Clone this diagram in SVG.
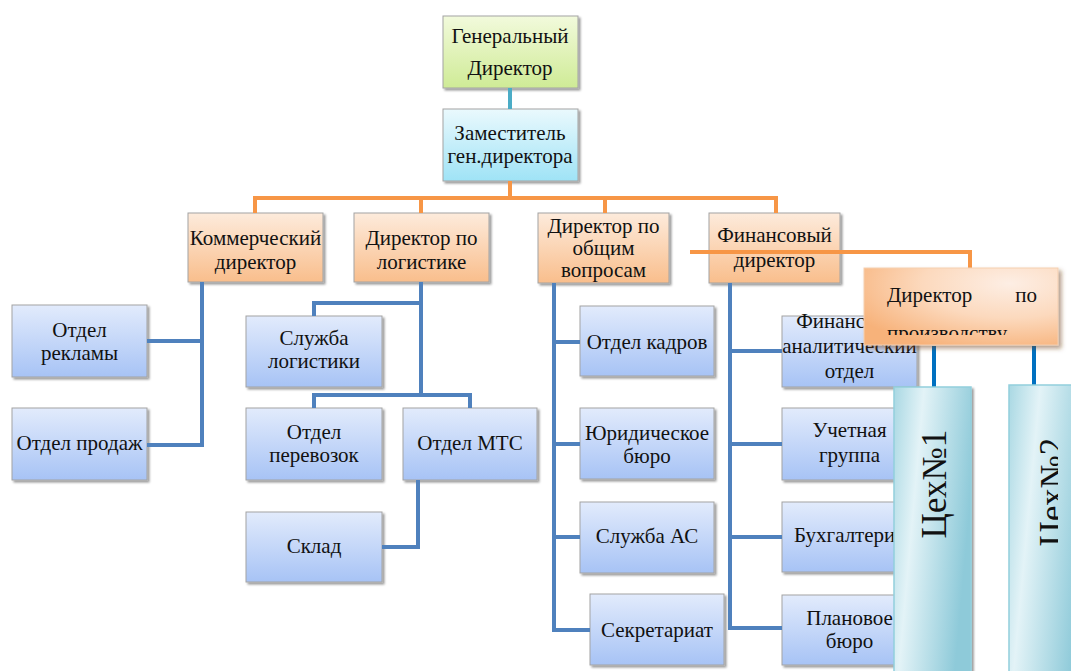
<svg xmlns="http://www.w3.org/2000/svg" width="1071" height="671" viewBox="0 0 1071 671">
<defs>
<linearGradient id="gGreen" x1="0" y1="0" x2="0" y2="1"><stop offset="0" stop-color="#f2fadc"/><stop offset="1" stop-color="#cfeb96"/></linearGradient>
<linearGradient id="gCyan" x1="0" y1="0" x2="0" y2="1"><stop offset="0" stop-color="#eaf9fd"/><stop offset="1" stop-color="#9fe3f6"/></linearGradient>
<linearGradient id="gOrange" x1="0" y1="0" x2="0" y2="1"><stop offset="0" stop-color="#fdebdc"/><stop offset="1" stop-color="#f9be8c"/></linearGradient>
<linearGradient id="gBlue" x1="0" y1="0" x2="0" y2="1"><stop offset="0" stop-color="#e2ebfc"/><stop offset="1" stop-color="#a7c3f5"/></linearGradient>
<radialGradient id="gProd" cx="0.75" cy="0.2" r="0.9"><stop offset="0" stop-color="#fdeee4"/><stop offset="0.5" stop-color="#fcd9bd"/><stop offset="1" stop-color="#f7b27a"/></radialGradient>
<linearGradient id="gTeal" x1="0" y1="0" x2="1" y2="0.35"><stop offset="0" stop-color="#a9d8e3"/><stop offset="0.35" stop-color="#e3f3f7"/><stop offset="1" stop-color="#8ecad9"/></linearGradient>
<filter id="sh" x="-10%" y="-10%" width="130%" height="130%"><feDropShadow dx="2" dy="2" stdDeviation="1.2" flood-color="#000" flood-opacity="0.4"/></filter>
<filter id="sh2" x="-10%" y="-10%" width="130%" height="130%"><feDropShadow dx="3" dy="3" stdDeviation="2" flood-color="#6b3a10" flood-opacity="0.5"/></filter>
<clipPath id="cProd"><rect x="864" y="268" width="195" height="67"/></clipPath>
<clipPath id="cCeh2"><rect x="1000" y="380" width="58" height="291"/></clipPath>
</defs>
<style>
text{font-family:"Liberation Serif","Times New Roman",serif;font-size:21px;fill:#111;text-anchor:middle}
.box{stroke:#a3a3a3;stroke-width:1;filter:url(#sh)}
.green{fill:url(#gGreen)}
.cyan{fill:url(#gCyan)}
.orange{fill:url(#gOrange)}
.blue{fill:url(#gBlue)}
.teal{fill:url(#gTeal);stroke:#93cfdd;stroke-width:1.5;filter:url(#sh)}
.lb{fill:none;stroke:#4f81bd;stroke-width:4}
.lo{fill:none;stroke:#f79646;stroke-width:4}
.lt{fill:none;stroke:#4bacc6;stroke-width:4}
.ld{fill:none;stroke:#0070c0;stroke-width:4}
</style>
<rect width="1071" height="671" fill="#fff"/>

<g id="gen-dir"><rect class="box green" x="443" y="16" width="135" height="72"/><text x="510" y="43">Генеральный</text><text x="510" y="75">Директор</text></g>
<g id="deputy"><rect class="box cyan" x="443" y="109" width="135" height="72"/><text x="510" y="140">Заместитель</text><text x="510" y="163">ген.директора</text></g>

<g id="commercial"><rect class="box orange" x="188" y="213" width="135" height="69"/><text x="255.5" y="245">Коммерческий</text><text x="255.5" y="269">директор</text></g>
<g id="logistics-dir"><rect class="box orange" x="354" y="213" width="135" height="69"/><text x="421.5" y="245">Директор по</text><text x="421.5" y="269">логистике</text></g>
<g id="general-dir"><rect class="box orange" x="538" y="213" width="131" height="70"/><text x="603.5" y="233">Директор по</text><text x="603.5" y="255">общим</text><text x="603.5" y="277">вопросам</text></g>
<g id="finance-dir"><rect class="box orange" x="709" y="213" width="131" height="70"/><text x="774.5" y="242">Финансовый</text><text x="774.5" y="267">директор</text></g>

<g id="ad-dept"><rect class="box blue" x="12" y="305" width="135" height="72"/><text x="79.5" y="337">Отдел</text><text x="79.5" y="360">рекламы</text></g>
<g id="sales-dept"><rect class="box blue" x="12" y="408" width="135" height="72"/><text x="79.5" y="450">Отдел продаж</text></g>

<g id="logistics-service"><rect class="box blue" x="246" y="316" width="136" height="71"/><text x="314" y="345">Служба</text><text x="314" y="368">логистики</text></g>
<g id="transport-dept"><rect class="box blue" x="246" y="408" width="136" height="72"/><text x="314" y="439">Отдел</text><text x="314" y="462">перевозок</text></g>
<g id="mts-dept"><rect class="box blue" x="403" y="408" width="134" height="72"/><text x="470" y="450">Отдел МТС</text></g>
<g id="warehouse"><rect class="box blue" x="246" y="512" width="136" height="70"/><text x="314" y="553">Склад</text></g>

<g id="hr-dept"><rect class="box blue" x="580" y="306" width="134" height="70"/><text x="647" y="349">Отдел кадров</text></g>
<g id="legal"><rect class="box blue" x="580" y="408" width="134" height="71"/><text x="647" y="440">Юридическое</text><text x="647" y="463">бюро</text></g>
<g id="as-service"><rect class="box blue" x="580" y="502" width="134" height="71"/><text x="647" y="543">Служба АС</text></g>
<g id="secretariat"><rect class="box blue" x="590" y="594" width="134" height="71"/><text x="657" y="637">Секретариат</text></g>

<g id="fin-analytic"><rect class="box blue" x="782" y="316" width="135" height="71"/><text x="849.5" y="328">Финансово-</text><text x="849.5" y="353">аналитический</text><text x="849.5" y="378">отдел</text></g>
<g id="accounting-group"><rect class="box blue" x="782" y="408" width="135" height="72"/><text x="849.5" y="437">Учетная</text><text x="849.5" y="462">группа</text></g>
<g id="bookkeeping"><rect class="box blue" x="782" y="502" width="135" height="70"/><text x="849.5" y="542">Бухгалтерия</text></g>
<g id="planning"><rect class="box blue" x="782" y="595" width="135" height="70"/><text x="849.5" y="625">Плановое</text><text x="849.5" y="648">бюро</text></g>

<g id="connectors">
<path class="lt" d="M510 88V109"/>
<path class="lo" d="M510 181V198M255 213V198H776V213M421 198V213M605 198V213"/>
<path class="lo" d="M690 252H970V268"/>
<path class="lb" d="M202 282V445H147M202 341H147"/>
<path class="lb" d="M421 282V395M421 303H314V316M314 408V395H470V408M418 480V547H382"/>
<path class="lb" d="M554 283V630H590M554 342H580M554 444H580M554 537H580"/>
<path class="lb" d="M730 283V628H782M730 351H782M730 444H782M730 537H782"/>
<path class="ld" d="M934 346V387M1034 346V386"/>
</g>

<g id="prod-dir"><rect x="864" y="268" width="194" height="77" fill="url(#gProd)" stroke="#f5cfb0" stroke-width="1" filter="url(#sh2)"/><text style="text-anchor:start" x="887" y="302">Директор<tspan x="1037" style="text-anchor:end">по</tspan></text><g clip-path="url(#cProd)"><text style="text-anchor:start" x="887" y="340">производству</text></g></g>

<g id="ceh1"><rect class="teal" x="894" y="387" width="77" height="300"/><text transform="translate(946 484) rotate(-90)" style="font-size:35px">Цех№1</text></g>
<g id="ceh2"><rect class="teal" x="1009" y="385" width="80" height="300"/><g clip-path="url(#cCeh2)"><text transform="translate(1064 492) rotate(-90)" style="font-size:35px">Цех№2</text></g></g>
</svg>
